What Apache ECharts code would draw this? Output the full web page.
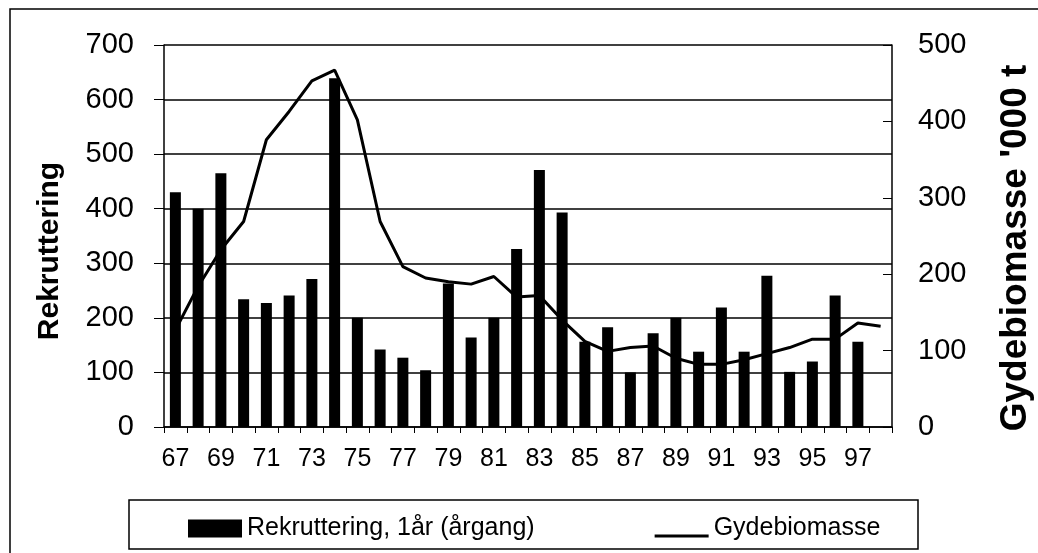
<!DOCTYPE html>
<html>
<head>
<meta charset="utf-8">
<script src="https://cdn.jsdelivr.net/npm/echarts@6/dist/echarts.min.js"></script>
<style>
html,body{margin:0;padding:0;background:#fff;}
#c{width:1038px;height:553px;}
</style>
</head>
<body>
<div id="c"></div>
<script>
var years = ['67','68','69','70','71','72','73','74','75','76','77','78','79','80','81','82','83','84','85','86','87','88','89','90','91','92','93','94','95','96','97','98'];
var rekruttering = [430,400,465,234,227,241,271,639,200,142,127,104,263,164,200,326,471,393,156,183,100,172,200,138,219,138,277,101,120,241,156,null];
var gydebiomasse = [127,184,232,269,376,413,453,467,402,269,210,195,190,187,197,170,172,140,112,99,104,106,90,82,82,88,96,104,115,115,136,132];
var leftTicks = [0,100,200,300,400,500,600,700];
var rightTicks = [0,100,200,300,400,500];
var barName = 'Rekruttering, 1år (årgang)';
var lineName = 'Gydebiomasse';
var leftTitle = 'Rekruttering';
var rightTitle = "Gydebiomasse '000 t";

var FONT = '"Liberation Sans", Arial, sans-serif';
var chart = echarts.init(document.getElementById('c'), null, {renderer:'canvas'});
chart.setOption({
  animation:false,
  backgroundColor:'#fff',
  grid:{left:164, right:146, top:45, bottom:126, containLabel:false},
  legend:{
    left:183, top:511,
    itemWidth:54, itemHeight:18, itemGap:120,
    textStyle:{fontFamily:FONT, fontSize:25, color:'#000'},
    data:[
      {name:barName, icon:'rect'},
      {name:lineName, icon:'path://M0,0 L0.01,0 L0.01,0.01 Z M0,15 L54,15 L54,18 L0,18 Z'}
    ]
  },
  graphic:[
    {type:'rect', shape:{x:10,y:9,width:1200,height:800}, style:{fill:'none', stroke:'#000', lineWidth:1.5}, silent:true},
    {type:'rect', shape:{x:129,y:500,width:789,height:49}, style:{fill:'none', stroke:'#000', lineWidth:1.5}, silent:true},
    {type:'text', x:50, y:251, rotation:Math.PI/2, style:{text:leftTitle, font:'bold 30px '+FONT, fill:'#000', textAlign:'center', textVerticalAlign:'middle'}},
    {type:'text', x:1016, y:248, rotation:Math.PI/2, style:{text:rightTitle, font:'bold 37px '+FONT, fill:'#000', textAlign:'center', textVerticalAlign:'middle'}}
  ],
  xAxis:{
    type:'category', data:years, boundaryGap:true,
    axisLine:{lineStyle:{color:'#000', width:1.5}},
    axisTick:{show:true, interval:0, length:6, inside:false, lineStyle:{color:'#000', width:1}},
    axisLabel:{interval:1, margin:20, fontFamily:FONT, fontSize:25, color:'#000'},
    splitLine:{show:false}
  },
  yAxis:[
    {
      type:'value', min:0, max:700, interval:100, position:'left',
      axisLine:{show:true, lineStyle:{color:'#000', width:1.5}},
      axisTick:{show:true, length:10, inside:false, lineStyle:{color:'#000', width:1}},
      axisLabel:{margin:30, fontFamily:FONT, fontSize:29, color:'#000', padding:[0,0,10,0],
        formatter:function(v){return leftTicks.indexOf(v)>=0?String(v):'';}},
      splitLine:{show:true, lineStyle:{color:'#000', width:1.5}}
    },
    {
      type:'value', min:0, max:500, interval:100, position:'right',
      axisLine:{show:true, lineStyle:{color:'#000', width:1.5}},
      axisTick:{show:true, length:9, inside:true, lineStyle:{color:'#000', width:1}},
      axisLabel:{margin:26, fontFamily:FONT, fontSize:29, color:'#000', padding:[0,0,10,0],
        formatter:function(v){return rightTicks.indexOf(v)>=0?String(v):'';}},
      splitLine:{show:false}
    }
  ],
  series:[
    {name:barName, type:'bar', yAxisIndex:0, data:rekruttering, barWidth:11,
      itemStyle:{color:'#000'}},
    {name:lineName, type:'line', yAxisIndex:1, data:gydebiomasse, showSymbol:false, symbol:'none',
      lineStyle:{color:'#000', width:3}, itemStyle:{color:'#000'}}
  ]
});
</script>
</body>
</html>
